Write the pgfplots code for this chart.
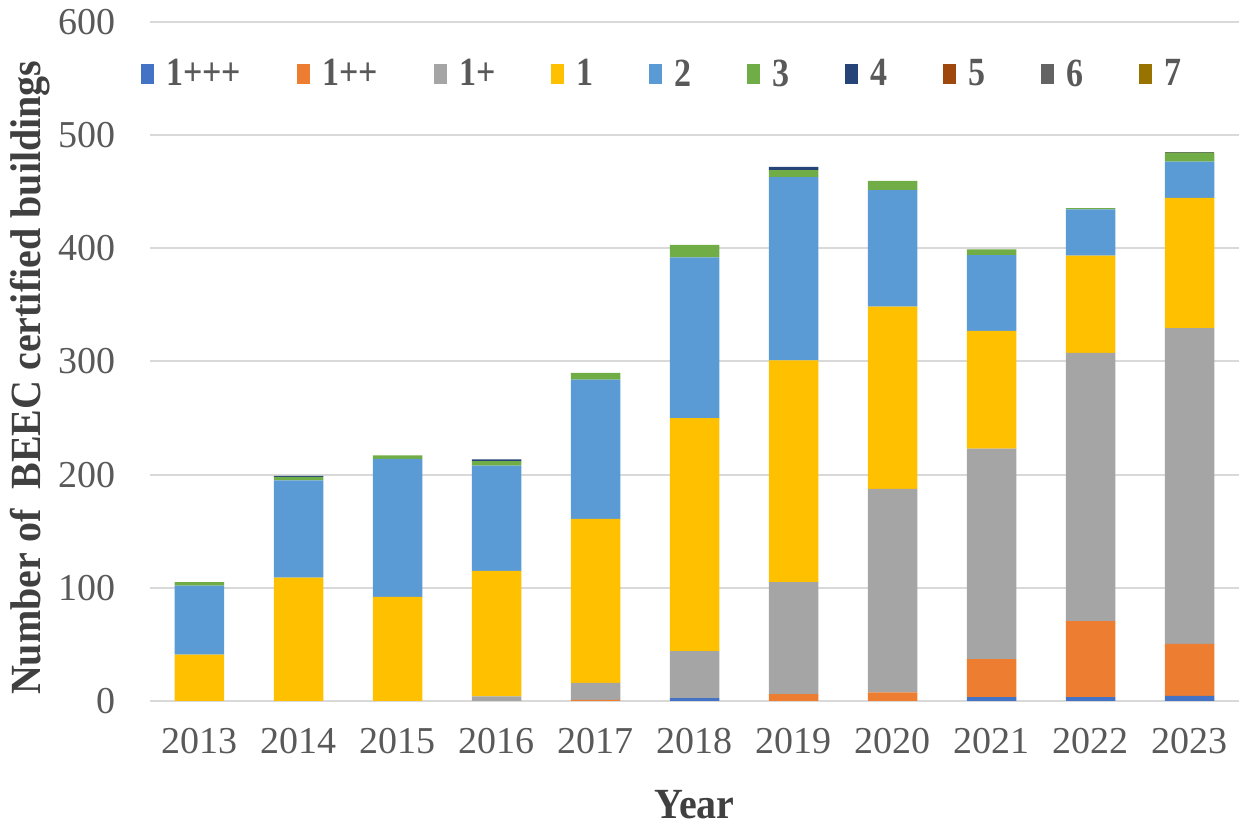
\documentclass[border=0pt]{standalone}
\usepackage{pgfplots}
\usepackage{pgfplotstable}
\pgfplotsset{compat=1.18}
\usepackage{fontspec}
\setmainfont{Liberation Serif}

\definecolor{cA}{HTML}{4472C4}
\definecolor{cB}{HTML}{ED7D31}
\definecolor{cC}{HTML}{A5A5A5}
\definecolor{cD}{HTML}{FFC000}
\definecolor{cE}{HTML}{5B9BD5}
\definecolor{cF}{HTML}{70AD47}
\definecolor{cG}{HTML}{264478}
\definecolor{cH}{HTML}{9E480E}
\definecolor{cI}{HTML}{636363}
\definecolor{cJ}{HTML}{997300}
\definecolor{gridc}{HTML}{D9D9D9}
\definecolor{tickc}{HTML}{595959}
\definecolor{labc}{HTML}{404040}

% BEEC certified buildings per class and year
\pgfplotstableread{
x  yr    a    b     c      d    e    f    g    h  i  j
0  2013  0    0     0      41   61   3    0    0  0  0
1  2014  0    0     0      109  86   3    1    0  0  0
2  2015  0    0     0      92   122  3    0    0  0  0
3  2016  0    0     4      111  93   4    1.5  0  0  0
4  2017  0    1     15     145  123  6    0    0  0  0
5  2018  2.5  0     41.5   206  142  11   0    0  0  0
6  2019  0    6     99     196  162  6    3    0  0  0
7  2020  0    7.5   180    161  103  8    0    0  0  0
8  2021  3.5  33.5  186    104  67   5    0    0  0  0
9  2022  3.5  67    237    86   41   1    0    0  0  0
10 2023  4.5  46    279    115  32   8    0    0  1  0
}\data

\newcommand{\lblfont}{\fontsize{21.5}{21.5}\selectfont\bfseries\addfontfeature{FakeStretch=0.93}}

\begin{document}
\begin{tikzpicture}
\begin{axis}[
    name=ax,
    scale only axis,
    width=544.5pt, height=339.5pt,
    ybar stacked,
    bar width=0.5,
    xmin=-0.5, xmax=10.5,
    ymin=0, ymax=600,
    xtick=data,
    xticklabels={2013,2014,2015,2016,2017,2018,2019,2020,2021,2022,2023},
    ytick={0,100,...,600},
    ymajorgrids,
    grid style={gridc, line width=1pt},
    axis x line*=bottom,
    axis y line*=left,
    x axis line style={draw=gridc, line width=1pt, -},
    y axis line style={draw=none},
    major tick length=0pt,
    /pgf/number format/assume math mode=true,
    tick label style={font=\fontsize{19}{19}\selectfont, text=tickc},
    xticklabel style={yshift=-10pt},
    yticklabel style={xshift=-13.5pt},
    xlabel={Year},
    ylabel={Number of\ \ BEEC certified buildings},
    every axis x label/.style={at={(axis description cs:0.5,-0.152)}, anchor=center,
        font=\lblfont, text=labc},
    every axis y label/.style={at={(axis description cs:-0.11,0.476)}, rotate=90, anchor=center,
        font=\lblfont, text=labc},
    legend columns=10,
    legend style={at={(axis description cs:-0.014,0.923)}, anchor=west,
        draw=none, fill=none,
        font=\fontsize{20}{20}\selectfont\bfseries\addfontfeature{FakeStretch=0.85}, text=tickc,
        /tikz/every even column/.append style={column sep=22pt}},
    legend image code/.code={\fill[#1] (0pt,-5pt) rectangle (6.5pt,5pt);},
    legend cell align=left,
    legend style={nodes={inner xsep=6pt}},
]
\addplot[fill=cA, draw=none] table[x=x, y=a] {\data};
\addplot[fill=cB, draw=none] table[x=x, y=b] {\data};
\addplot[fill=cC, draw=none] table[x=x, y=c] {\data};
\addplot[fill=cD, draw=none] table[x=x, y=d] {\data};
\addplot[fill=cE, draw=none] table[x=x, y=e] {\data};
\addplot[fill=cF, draw=none] table[x=x, y=f] {\data};
\addplot[fill=cG, draw=none] table[x=x, y=g] {\data};
\addplot[fill=cH, draw=none] table[x=x, y=h] {\data};
\addplot[fill=cI, draw=none] table[x=x, y=i] {\data};
\addplot[fill=cJ, draw=none] table[x=x, y=j] {\data};
\legend{1+++,1++,1+,1,2,3,4,5,6,7}
\end{axis}
\pgfresetboundingbox
\path ([xshift=-75pt,yshift=-62pt]ax.south west) rectangle ([xshift=6.5pt,yshift=11pt]ax.north east);
\end{tikzpicture}
\end{document}
